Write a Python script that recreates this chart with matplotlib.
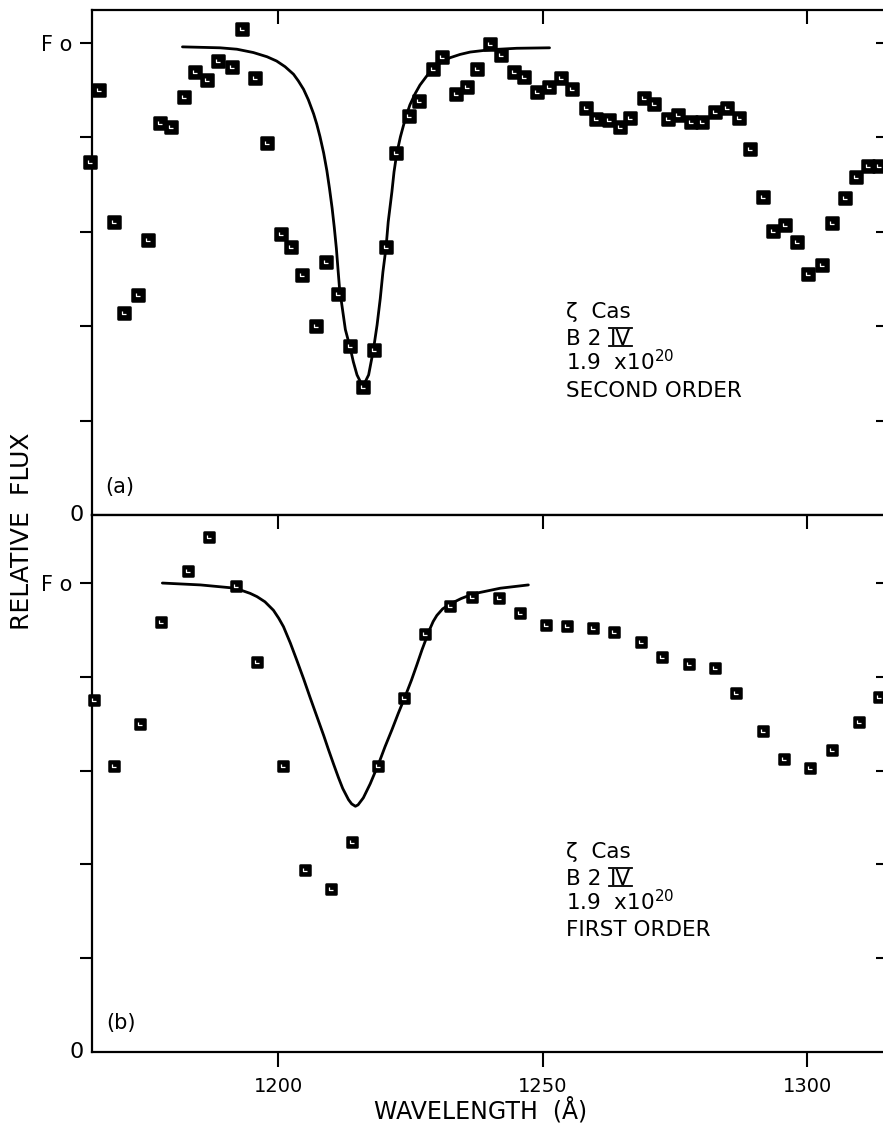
import matplotlib
matplotlib.use("Agg")
import matplotlib.pyplot as plt
from matplotlib.path import Path
from matplotlib.lines import Line2D
from matplotlib.markers import MarkerStyle

plt.rcParams['font.family'] = ['DejaVu Sans']

# (a) second order: measured fluxes (units of F0) and fitted profile
wl_a = [1164.5, 1166.2, 1169.0, 1170.9, 1173.5, 1175.4, 1177.7, 1179.8, 1182.2, 1184.2,
        1186.6, 1188.7, 1191.3, 1193.2, 1195.7, 1197.8, 1200.6, 1202.5, 1204.5, 1207.2,
        1209.1, 1211.4, 1213.6, 1216.1, 1218.1, 1220.4, 1222.3, 1224.8, 1226.7, 1229.3,
        1231.0, 1233.6, 1235.7, 1237.6, 1240.1, 1242.2, 1244.6, 1246.5, 1249.0, 1251.2,
        1253.5, 1255.6, 1258.2, 1260.1, 1262.6, 1264.7, 1266.5, 1269.2, 1271.1, 1273.7,
        1275.6, 1278.1, 1280.2, 1282.6, 1284.9, 1287.1, 1289.2, 1291.7, 1293.6, 1295.8,
        1298.1, 1300.2, 1302.8, 1304.7, 1307.2, 1309.3, 1311.5, 1313.6]
flux_a = [0.748, 0.900, 0.621, 0.428, 0.466, 0.583, 0.830, 0.822, 0.885, 0.938,
          0.922, 0.962, 0.949, 1.030, 0.926, 0.788, 0.595, 0.568, 0.508, 0.400,
          0.536, 0.468, 0.358, 0.271, 0.350, 0.568, 0.767, 0.845, 0.877, 0.945,
          0.970, 0.892, 0.907, 0.945, 0.998, 0.974, 0.939, 0.928, 0.896, 0.907,
          0.926, 0.902, 0.862, 0.839, 0.837, 0.822, 0.841, 0.883, 0.871, 0.839,
          0.847, 0.833, 0.833, 0.854, 0.862, 0.841, 0.775, 0.674, 0.602, 0.614,
          0.578, 0.511, 0.530, 0.619, 0.671, 0.716, 0.739, 0.739]
fit_wl_a = [1181.9, 1189.0, 1192.2, 1195.3, 1197.9, 1199.7, 1201.3, 1202.9, 1203.8, 1204.8,
            1205.7, 1206.7, 1207.3, 1207.9, 1208.6, 1209.2, 1209.7, 1210.2, 1210.6, 1211.0,
            1211.3, 1211.6, 1212.7, 1213.6, 1214.2, 1214.9, 1216.0, 1217.1, 1218.0, 1218.7,
            1219.3, 1219.8, 1220.4, 1220.8, 1221.5, 1221.9, 1222.4, 1223.1, 1223.7, 1224.3,
            1224.9, 1225.9, 1226.8, 1228.0, 1229.2, 1230.6, 1232.5, 1234.4, 1236.3, 1240.1,
            1245.1, 1251.3]
fit_a = [0.992, 0.990, 0.987, 0.980, 0.971, 0.962, 0.950, 0.934, 0.920, 0.902,
         0.880, 0.850, 0.828, 0.802, 0.767, 0.730, 0.692, 0.650, 0.610, 0.565,
         0.522, 0.480, 0.393, 0.355, 0.325, 0.297, 0.272, 0.297, 0.350, 0.403,
         0.459, 0.515, 0.568, 0.621, 0.685, 0.727, 0.765, 0.801, 0.826, 0.849,
         0.869, 0.893, 0.911, 0.929, 0.946, 0.958, 0.969, 0.976, 0.981, 0.986,
         0.989, 0.990]

# (b) first order
wl_b = [1165.2, 1169.0, 1173.9, 1177.9, 1183.0, 1187.0, 1192.1, 1196.0, 1201.0, 1205.0,
        1210.0, 1214.0, 1218.9, 1223.8, 1227.8, 1232.5, 1236.7, 1241.8, 1245.7, 1250.7,
        1254.6, 1259.5, 1263.5, 1268.6, 1272.6, 1277.7, 1282.6, 1286.6, 1291.7, 1295.7,
        1300.6, 1304.7, 1309.8, 1313.6]
flux_b = [0.750, 0.610, 0.699, 0.917, 1.026, 1.098, 0.994, 0.832, 0.610, 0.388,
          0.348, 0.448, 0.610, 0.755, 0.891, 0.951, 0.970, 0.968, 0.936, 0.910,
          0.908, 0.904, 0.895, 0.874, 0.842, 0.827, 0.819, 0.765, 0.684, 0.625,
          0.606, 0.644, 0.704, 0.757]
fit_wl_b = [1178.1, 1185.3, 1191.9, 1194.7, 1196.0, 1197.5, 1199.1, 1200.1, 1201.0, 1202.3,
            1203.5, 1204.8, 1206.0, 1207.3, 1208.6, 1209.5, 1210.5, 1211.4, 1212.2, 1213.3,
            1213.9, 1214.6, 1215.1, 1216.1, 1217.4, 1219.0, 1220.2, 1221.5, 1222.7, 1224.0,
            1225.2, 1226.2, 1227.2, 1228.6, 1229.3, 1230.0, 1231.1, 1232.8, 1234.6, 1236.9,
            1242.0, 1247.3]
fit_b = [1.000, 0.996, 0.989, 0.978, 0.971, 0.960, 0.942, 0.925, 0.907, 0.872,
         0.836, 0.796, 0.757, 0.716, 0.675, 0.645, 0.613, 0.585, 0.562, 0.538,
         0.529, 0.524, 0.527, 0.542, 0.572, 0.615, 0.651, 0.687, 0.722, 0.758,
         0.793, 0.825, 0.858, 0.900, 0.918, 0.931, 0.945, 0.957, 0.967, 0.977,
         0.989, 0.996]

xticks = [1200, 1250, 1300]
yticks = [0.2, 0.4, 0.6, 0.8, 1.0]
ylabels = ['', '', '', '', 'F o']
info_a = ['\u03b6  Cas', 'B 2', '1.9  x10$^{20}$', 'SECOND ORDER']
info_b = ['\u03b6  Cas', 'B 2', '1.9  x10$^{20}$', 'FIRST ORDER']

fig = plt.figure(figsize=(8.83, 11.29), dpi=100)
ax1 = fig.add_axes([0.1042, 0.5438, 0.9015, 0.4473])
ax2 = fig.add_axes([0.1042, 0.0682, 0.9015, 0.4756])

# the little plotting symbol: black rounded square with a white "L" in it
L_MARK = Path([(-0.3, 0.4), (-0.3, -0.25), (0.35, -0.25)],
              [Path.MOVETO, Path.LINETO, Path.LINETO])
SQ = MarkerStyle('s', joinstyle='round')


def draw_points(ax, x, y, ms):
    ax.plot(x, y, ls='none', marker=SQ, ms=ms, mfc='black', mec='black',
            mew=1.8, clip_on=False, zorder=3)
    ax.plot(x, y, ls='none', marker=L_MARK, ms=ms * 0.42, mfc='none',
            mec='white', mew=0.9, clip_on=False, zorder=4)


def setup(ax, ytop):
    ax.set_xlim(1164.8, 1315.3)
    ax.set_ylim(0, ytop)
    for s in ax.spines.values():
        s.set_linewidth(1.6)
    ax.set_yticks(yticks)
    ax.set_yticklabels(ylabels)
    ax.tick_params(axis='y', direction='out', length=9, width=1.5,
                   labelsize=15, pad=5)
    sec = ax.secondary_yaxis('right')
    sec.set_yticks(yticks)
    sec.tick_params(direction='in', length=9, width=1.5, labelright=False)
    sec.spines['right'].set_linewidth(1.6)
    ax.annotate('0', xy=(0, 0), xycoords='axes fraction', xytext=(-11, 0),
                textcoords='offset points', ha='center', va='center',
                fontsize=16)


setup(ax1, 1.07)
setup(ax2, 1.145)

ax1.set_xticks(xticks)
ax1.xaxis.set_ticks_position('top')
ax1.tick_params(axis='x', direction='in', length=10, width=1.5,
                labeltop=False, labelbottom=False)

ax2.set_xticks(xticks)
ax2.set_xticklabels([str(t) for t in xticks])
ax2.tick_params(axis='x', direction='out', length=11, width=1.5,
                labelsize=14, pad=7)
top2 = ax2.secondary_xaxis('top')
top2.set_xticks(xticks)
top2.tick_params(direction='in', length=10, width=1.5, labeltop=False)

ax1.plot(fit_wl_a, fit_a, color='black', lw=2.0, solid_joinstyle='round',
         solid_capstyle='round', zorder=2)
ax2.plot(fit_wl_b, fit_b, color='black', lw=2.0, solid_joinstyle='round',
         solid_capstyle='round', zorder=2)
draw_points(ax1, wl_a, flux_a, 8.0)
draw_points(ax2, wl_b, flux_b, 7.2)

ax1.text(1170.1, 0.059, '(a)', fontsize=15, ha='center', va='center')
ax2.text(1170.3, 0.062, '(b)', fontsize=15, ha='center', va='center')

bars = []
for ax, lines, ys in [(ax1, info_a, [0.417, 0.360, 0.307, 0.250]),
                      (ax2, info_b, [0.414, 0.356, 0.303, 0.247])]:
    for s, yy in zip(lines, ys):
        t = ax.text(1254.4, yy, s, fontsize=15.5, ha='left', va='baseline')
        if s == 'B 2':
            iv = ax.annotate('IV', xy=(1, 0), xycoords=t, xytext=(6, 0),
                             textcoords='offset points', ha='left',
                             va='bottom', fontsize=15.5)
            bars.append((ax, iv, yy))

fig.text(22 / 883, 1 - 531 / 1129, 'RELATIVE  FLUX', rotation=90,
         ha='center', va='center', fontsize=18)
fig.text(481 / 883, 1 - 1110 / 1129, 'WAVELENGTH  (\u00c5)', ha='center',
         va='center', fontsize=17)

# over- and under-bars of the roman numeral
fig.canvas.draw()
W, H = fig.bbox.width, fig.bbox.height
cap = 15.5 * fig.dpi / 72 * 0.729
for ax, iv, yy in bars:
    bb = iv.get_window_extent()
    base = ax.transData.transform((1254.4, yy))[1]
    for yb in (base - 1, base + cap + 1):
        fig.add_artist(Line2D([(bb.x0 - 1) / W, (bb.x1 + 1) / W], [yb / H, yb / H],
                              color='black', lw=1.3))

fig.savefig('out.png', dpi=100)
